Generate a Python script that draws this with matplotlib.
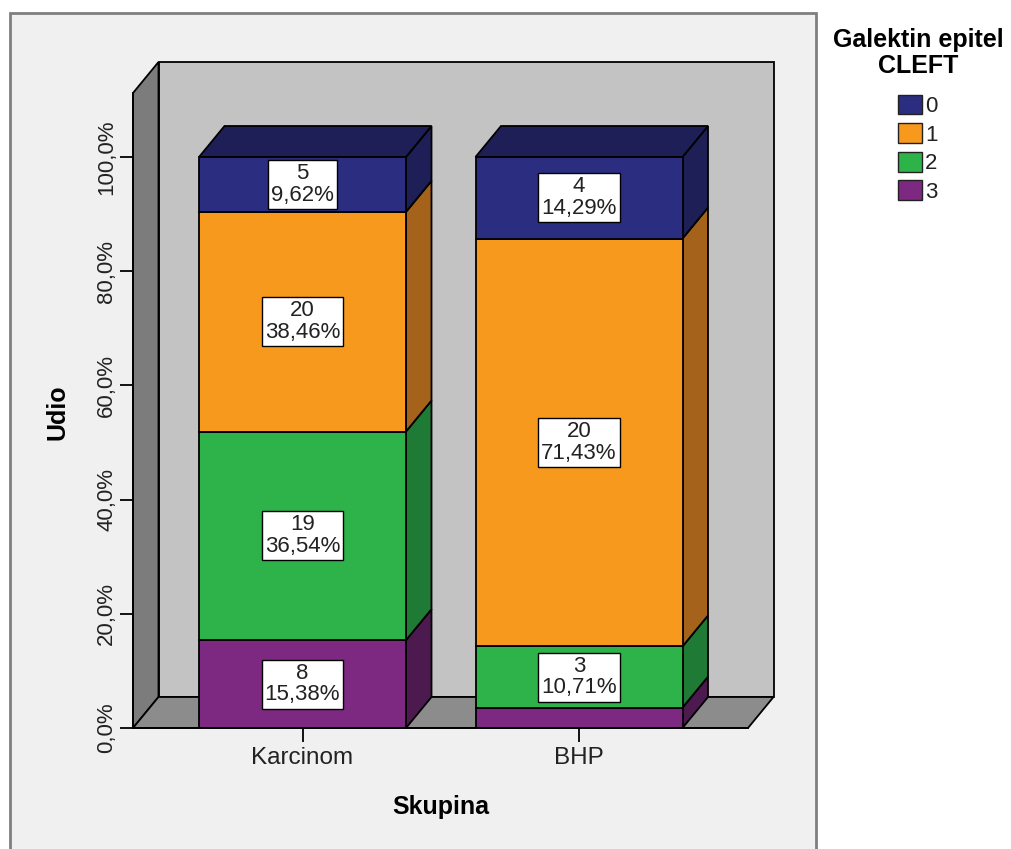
import matplotlib
matplotlib.use("Agg")
import matplotlib.pyplot as plt
from matplotlib.patches import Polygon, Rectangle, Patch

# --- data ---
GROUPS = ["Karcinom", "BHP"]
LEVELS = ["0", "1", "2", "3"]
COUNTS_0 = [5, 4]
COUNTS_1 = [20, 20]
COUNTS_2 = [19, 3]
COUNTS_3 = [8, 1]

# colours (front face, darker side/top face)
FRONT = {"0": "#2b2d80", "1": "#f7991c", "2": "#2db34a", "3": "#7d2881"}
SIDE = {"0": "#1d1f56", "1": "#a5621a", "2": "#1e7a34", "3": "#4c1a4f"}

FONT = "Liberation Sans"
plt.rcParams["font.family"] = [FONT, "DejaVu Sans"]

W, H = 1011, 849
fig = plt.figure(figsize=(W / 100, H / 100), dpi=100)
fig.patch.set_facecolor("white")

# outer chart frame
fig.patches.append(Rectangle((10 / W, -0.05), (816 - 10) / W, (H - 13) / H + 0.05,
                             transform=fig.transFigure, facecolor="#f0f0f0",
                             edgecolor="#7f7f7f", linewidth=2, zorder=-10))

# axes placed in pixel terms
left_px, right_px, bottom_px, top_px = 133, 773, 728, 62
ax = fig.add_axes([left_px / W, (H - bottom_px) / H,
                   (right_px - left_px) / W, (bottom_px - top_px) / H])
ax.patch.set_visible(False)

px_per_pct = (728 - 157) / 100.0
px_per_cat = 579 - 302.5
xmin = (left_px - 302.5) / px_per_cat
xmax = (right_px - 302.5) / px_per_cat
ymax = (bottom_px - top_px) / px_per_pct
ax.set_xlim(xmin, xmax)
ax.set_ylim(0, ymax)

dx = 25.5 / px_per_cat          # depth offset
dy = 31 / px_per_pct
half = 103.5 / px_per_cat       # half bar width
floor_right = (748 - 302.5) / px_per_cat
wall_top = ymax - dy

EDGE = dict(edgecolor="black", linewidth=1.3, clip_on=False)

# walls and floor
ax.add_patch(Polygon([(xmin + dx, dy), (floor_right + dx, dy), (floor_right + dx, ymax),
                      (xmin + dx, ymax)], closed=True, facecolor="#c3c3c3", **EDGE, zorder=1))
ax.add_patch(Polygon([(xmin, 0), (xmin + dx, dy), (xmin + dx, ymax), (xmin, wall_top)],
                     closed=True, facecolor="#7c7c7c", **EDGE, zorder=1))
ax.add_patch(Polygon([(xmin, 0), (floor_right, 0), (floor_right + dx, dy), (xmin + dx, dy)],
                     closed=True, facecolor="#8c8c8c", **EDGE, zorder=1))

# stacked bars, bottom to top: 3, 2, 1, 0
stack = [("3", COUNTS_3), ("2", COUNTS_2), ("1", COUNTS_1), ("0", COUNTS_0)]
for i, name in enumerate(GROUPS):
    total = sum(c[i] for _, c in stack)
    base = 0.0
    for k, (lev, counts) in enumerate(stack):
        n = counts[i]
        pct = 100.0 * n / total
        top = base + pct
        x0, x1 = i - half, i + half
        ax.add_patch(Rectangle((x0, base), 2 * half, pct, facecolor=FRONT[lev], **EDGE, zorder=3))
        ax.add_patch(Polygon([(x1, base), (x1 + dx, base + dy), (x1 + dx, top + dy), (x1, top)],
                             closed=True, facecolor=SIDE[lev], **EDGE, zorder=2))
        if k == len(stack) - 1:
            ax.add_patch(Polygon([(x0, top), (x0 + dx, top + dy), (x1 + dx, top + dy), (x1, top)],
                                 closed=True, facecolor=SIDE[lev], **EDGE, zorder=2))
        if pct >= 5:
            txt = "%d\n%s%%" % (n, ("%.2f" % pct).replace(".", ","))
            ax.text(i, base + pct / 2, txt, ha="center", va="center", fontsize=16,
                    linespacing=1.05, zorder=5, color="#222222",
                    bbox=dict(boxstyle="square,pad=0.14", facecolor="white",
                              edgecolor="black", linewidth=1))
        base = top

# axes lines and ticks
for s in ["top", "right"]:
    ax.spines[s].set_visible(False)
ax.spines["left"].set_bounds(0, wall_top)
ax.spines["bottom"].set_bounds(xmin, floor_right)
ax.spines["left"].set_linewidth(1.3)
ax.spines["bottom"].set_linewidth(1.3)
ax.spines["left"].set_zorder(6)
ax.spines["bottom"].set_zorder(6)

ax.set_yticks([0, 20, 40, 60, 80, 100])
ax.set_yticklabels([("%.1f%%" % v).replace(".", ",") for v in [0, 20, 40, 60, 80, 100]])
ax.tick_params(axis="y", length=9.4, width=1.3, pad=2, labelsize=16, labelrotation=90,
               labelcolor="#222222")
for lbl in ax.get_yticklabels():
    lbl.set_va("center")

ax.set_xticks(range(len(GROUPS)))
ax.set_xticklabels(GROUPS)
ax.tick_params(axis="x", length=10, width=1.3, pad=3.5, labelsize=17.5, labelcolor="#222222")

fig.text(57 / W, 1 - 412 / H, "Udio", rotation=90, ha="center", va="center",
         fontsize=18, fontweight="bold")
fig.text(441 / W, 1 - 807 / H, "Skupina", ha="center", va="center",
         fontsize=18, fontweight="bold")

# legend
handles = [Patch(facecolor=FRONT[l], edgecolor="#222222", linewidth=1) for l in LEVELS]
leg = fig.legend(handles, LEVELS, title="Galektin epitel\nCLEFT", loc="upper center",
                 bbox_to_anchor=(918 / W, 1 - 28 / H), frameon=False, fontsize=16,
                 handlelength=1.05, handleheight=1.0, handletextpad=0.15,
                 labelspacing=0.27, borderaxespad=0, borderpad=0, labelcolor="#222222")
leg.get_title().set_fontweight("bold")
leg.get_title().set_fontsize(18)
leg.get_title().set_multialignment("center")
leg.get_title().set_linespacing(1.1)
leg._legend_box.sep = 12

fig.savefig("out.png", dpi=100)
